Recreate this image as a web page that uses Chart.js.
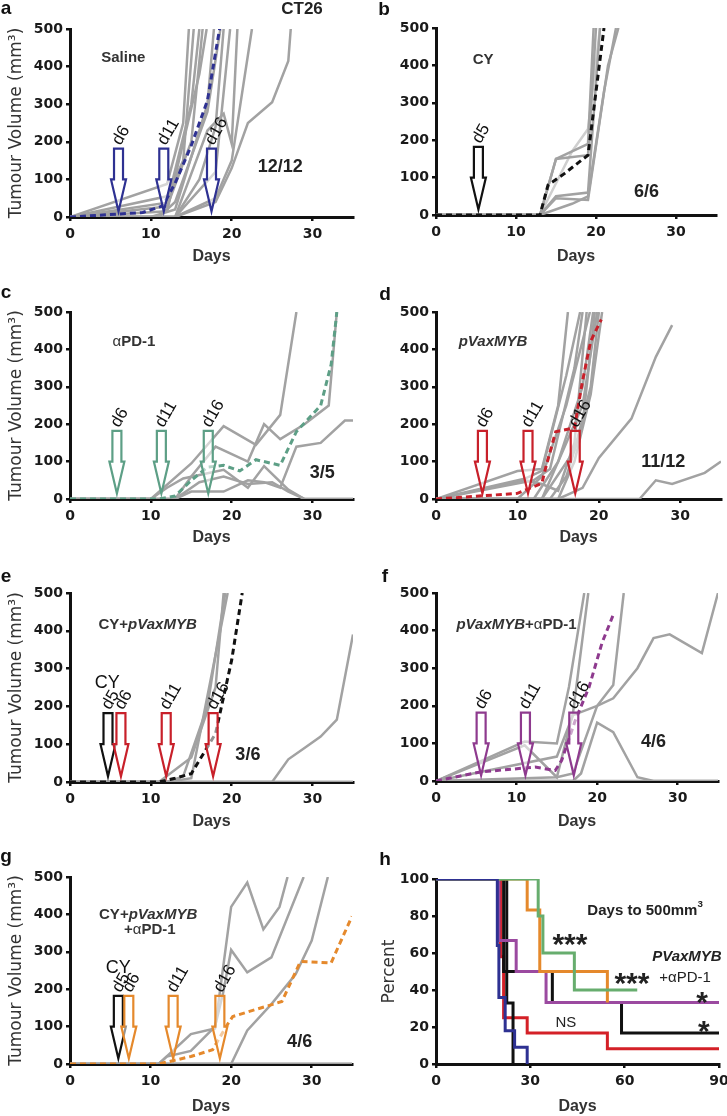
<!DOCTYPE html>
<html><head><meta charset="utf-8">
<script src="https://cdn.jsdelivr.net/npm/chart.js@4"></script>
<style>
html,body{margin:0;padding:0;background:#fff;}
#fig{position:relative;width:727px;height:1116px;}
.pn{position:absolute;}
</style></head>
<body><div id="fig"></div>
<script>
// ---------- DATA ----------
const dayTicks = [0, 10, 20, 30];
const volumeTicks = [0, 100, 200, 300, 400, 500];
const kmDayTicks = [0, 30, 60, 90];
const percentTicks = [0, 20, 40, 60, 80, 100];

// a: Saline
const salineMice = [
  [[0,0],[12,88],[14,250],[14.7,500]],
  [[0,0],[12,55],[14,150],[15.3,500]],
  [[0,0],[12,38],[15,300],[16,500]],
  [[0,0],[12,28],[15,200],[16.4,500]],
  [[0,0],[12,15],[16,380],[16.9,500]],
  [[0,0],[10,0],[13,20],[17,300],[17.8,500]],
  [[0,0],[11,0],[13,40],[17,280],[18.6,500]],
  [[0,0],[13,0],[16,100],[18,240],[19,500]],
  [[0,0],[13,0],[17,230],[19,275],[20,195],[20.7,500]],
  [[0,0],[13,0],[18,120],[19.8,500]],
  [[0,0],[13,0],[18,50],[20,150],[22.5,500]],
  [[0,0],[13,0],[18,40],[20,130],[22,250],[25,305],[27,415],[27.3,500]]
];
const salineMean = [[0,0],[9,12],[11.5,30],[13,90],[15,190],[17,310],[18.5,500]];
const salineDoseDays = [6, 11.6, 17.5];
const salineDoseLabels = ['d6', 'd11', 'd16'];

// b: CY
const cyMice = [
  [[0,0],[13,0],[15,150],[19,160],[20,500]],
  [[0,0],[13,0],[15,150],[19,190],[19.7,500]],
  [[0,0],[13,0],[15,50],[19,60],[20.5,500]],
  [[0,0],[13,0],[15,45],[19,40],[21.5,400],[22.8,500]],
  [[0,0],[13,0],[17,30],[19,50],[21,330],[22.5,500]],
  [[0,0],[13,0],[17,170],[19,230],[20.5,500]]
];
const cyMean = [[0,0],[13,0],[14,80],[16,110],[19,160],[21,500]];
const cyDoseDays = [5.3];
const cyDoseLabels = ['d5'];

// c: aPD-1
const pd1Mice = [
  [[0,0],[10,0],[15,95],[19,195],[23,145],[26,225],[28,500]],
  [[0,0],[13,0],[15,60],[18,140],[22,100],[24,200],[26,160],[29,200],[32,250],[33,500]],
  [[0,0],[13,0],[15,20],[19,20],[22,50],[24,45],[26,30],[28,140],[31,150],[34,210],[35,210]],
  [[0,0],[10,0],[12,30],[14,55],[19,78],[22,30],[24,88],[27,25],[29,0],[35,0]],
  [[0,0],[13,0],[16,45],[19,60],[22,40],[25,45],[27,20],[29,0],[35,0]]
];
const pd1Mean = [[0,0],[11,0],[13,8],[15,50],[17,85],[19,90],[21,75],[23,105],[26,90],[28,180],[31,250],[32.3,360],[33,500]];
const pd1DoseDays = [5.8, 11.3, 17.1];
const pd1DoseLabels = ['d6', 'd11', 'd16'];

// d: pVaxMYB
const mybMice = [
  [[0,0],[10,75],[13,80],[15,250],[16.2,500]],
  [[0,0],[11,55],[13,75],[16,330],[17.7,500]],
  [[0,0],[12,50],[14,80],[17,350],[18,500]],
  [[0,0],[11,50],[13,40],[15,22],[17,150],[18.5,500]],
  [[0,0],[10,0],[13,60],[16,250],[18.9,500]],
  [[0,0],[12,0],[15,100],[18,300],[19.3,500]],
  [[0,0],[13,0],[16,150],[18,250],[19.8,500]],
  [[0,0],[13,0],[17,130],[19,300],[20,500]],
  [[0,0],[15,0],[17,100],[19,280],[20.4,500]],
  [[0,0],[14,0],[16,60],[18,200],[19.5,500]],
  [[0,0],[15,0],[17,20],[18,30],[20,110],[24,215],[27,380],[29,465]],
  [[0,0],[25,0],[27,50],[29,40],[33,70],[35,100]]
];
const mybMean = [[0,0],[10,15],[13,42],[13.5,86],[14.7,180],[17,190],[18,316],[19,422],[20.3,480]];
const mybDoseDays = [5.7, 11.3, 17.1];
const mybDoseLabels = ['d6', 'd11', 'd16'];

// e: CY+pVaxMYB
const cyMybMice = [
  [[0,0],[11,0],[15,65],[18,250],[19,500]],
  [[0,0],[12,0],[15,10],[19.5,500]],
  [[0,0],[12,0],[14,15],[17,200],[19.2,500]],
  [[0,0],[25,0],[27,60],[29,90],[31,120],[33,165],[35,390]],
  [[0,0],[35,0]],
  [[0,0],[35,0]]
];
const cyMybMean = [[0,0],[11,0],[13,10],[15,22],[18,128],[20,323],[21.3,500]];
const cyMybCyDays = [4.7];
const cyMybDoseDays = [6.3, 11.9, 17.7];
const cyMybDoseLabels = ['d6', 'd11', 'd16'];

// f: pVaxMYB+aPD-1
const mybPd1Mice = [
  [[0,0],[11,105],[15,100],[16.5,250],[18.4,500]],
  [[0,0],[11,95],[15,10],[17,180],[18.9,500]],
  [[0,0],[15,65],[17,175],[20,200],[22,220],[25,300],[27,380],[29,390],[33,340],[35,500]],
  [[0,0],[15,10],[17,20],[20,200],[22,255],[23.3,500]],
  [[0,0],[17,0],[18,20],[20,155],[22,130],[25,10],[27,0],[35,0]],
  [[0,0],[35,0]]
];
const mybPd1Mean = [[0,0],[5.5,24],[12.3,37],[14.8,28],[15.6,55],[17.3,162],[19,250],[20.6,367],[22,442]];
const mybPd1DoseDays = [5.6, 11.1, 17.1];
const mybPd1DoseLabels = ['d6', 'd11', 'd16'];

// g: CY+pVaxMYB+aPD-1
const tripleMice = [
  [[0,0],[11,0],[15,80],[18,95],[20,420],[22,485],[24,360],[26,420],[27,500]],
  [[0,0],[11,0],[12,20],[15,35],[18,100],[19,190],[20,305],[22,245],[25,285],[29,500]],
  [[0,0],[20,0],[22,90],[25,160],[28,240],[30,330],[32,500]],
  [[0,0],[35,0]],
  [[0,0],[35,0]],
  [[0,0],[35,0]]
];
const tripleMean = [[0,0],[11,0],[13,10],[15,20],[17.7,38],[19.4,101],[20.2,127],[26.3,167],[28.6,274],[32.4,270],[35,395]];
const tripleCyDays = [6.0];
const tripleDoseDays = [7.3, 12.8, 18.6];
const tripleDoseLabels = ['d6', 'd11', 'd16'];

// h: days to 500 mm3 (percent remaining)
const kmSaline   = [[0,100],[19.5,64],[20,36],[22,18],[25,9],[29,0]];
const kmMyb      = [[0,100],[20.5,58],[21.5,25],[29,16.7],[54.5,8.3],[90,8.3]];
const kmCy       = [[0,100],[22.5,33],[24.5,0]];
const kmCyMyb    = [[0,100],[21.5,50],[37,33.3],[59,16.7],[90,16.7]];
const kmMybPd1   = [[0,100],[20,66.7],[25.5,50],[35,33.3],[90,33.3]];
const kmPd1      = [[0,100],[32.5,80],[34,60],[44,40],[64,40]];
const kmTriple   = [[0,100],[29,83.3],[33,50],[54.5,33.3]];

// ---------- STYLE ----------
const FONT = "'Liberation Sans', Arial, sans-serif";
const TICKFONT = "'DejaVu Sans', sans-serif";
const GREY = '#a2a2a2';
const C = {navy:'#2e3192', black:'#111111', teal:'#5d9f86', red:'#c8202a', purple:'#8e3a8e', orange:'#e5892c', green:'#67ad6e', kmRed:'#d42027', kmPurple:'#9b4aa0', kmBlue:'#2e3192'};

const pts = a => a.map(([x, y]) => ({x, y}));

function drawRich(ctx, segs, cx, cy, size, color) {
  const parts = segs.map(([t, st]) => {
    const sup = st.includes('sup');
    const s = sup ? size * 0.65 : size;
    const w8 = st.replace('sup', '').trim() || 'normal';
    const f = `${w8} ${s}px ${FONT}`;
    ctx.font = f;
    return {t, f, w: ctx.measureText(t).width, dy: sup ? -size * 0.45 : 0};
  });
  const total = parts.reduce((a, p) => a + p.w, 0);
  let x = cx - total / 2;
  ctx.fillStyle = color; ctx.textBaseline = 'middle'; ctx.textAlign = 'left';
  parts.forEach(p => { ctx.font = p.f; ctx.fillText(p.t, x, cy + p.dy); x += p.w; });
}

function drawArrow(ctx, x, yTop, yNeck, yTip, color) {
  const sw = 4.5, hw = 7.5;
  ctx.save();
  ctx.beginPath();
  ctx.moveTo(x - sw, yTop); ctx.lineTo(x + sw, yTop); ctx.lineTo(x + sw, yNeck);
  ctx.lineTo(x + hw, yNeck); ctx.lineTo(x, yTip); ctx.lineTo(x - hw, yNeck);
  ctx.lineTo(x - sw, yNeck); ctx.closePath();
  ctx.fillStyle = 'rgba(255,255,255,0.55)'; ctx.fill();
  ctx.lineWidth = 2.2; ctx.strokeStyle = color; ctx.lineJoin = 'miter'; ctx.stroke();
  ctx.restore();
}

const annotPlugin = {
  id: 'annot',
  afterDatasetsDraw(chart, args, opts) {
    const {ctx, scales: {x, y}} = chart;
    (opts.arrows || []).forEach(a => {
      const px = x.getPixelForValue(a.day);
      const top = y.getPixelForValue(a.top);
      drawArrow(ctx, px, top, y.getPixelForValue(a.neck), y.getPixelForValue(a.tip), a.color);
      if (a.label) {
        ctx.save();
        ctx.translate(px - 2, top - 5);
        ctx.rotate(-60 * Math.PI / 180);
        ctx.font = `17px ${FONT}`; ctx.fillStyle = '#111';
        ctx.textAlign = 'left'; ctx.textBaseline = 'middle';
        ctx.fillText(a.label, 0, 0);
        ctx.restore();
      }
    });
  },
  afterDraw(chart, args, opts) {
    const {ctx, scales: {x, y}} = chart;
    ctx.save();
    (opts.texts || []).forEach(t => {
      drawRich(ctx, t.segs, x.getPixelForValue(t.x), y.getPixelForValue(t.y) + (t.dy || 0), t.size || 15, t.color || '#333');
    });
    (opts.fixed || []).forEach(t => {
      drawRich(ctx, t.segs, t.px, t.py, t.size, t.color || '#111');
    });
    ctx.restore();
  }
};

function scaleOpts(o) {
  return {
    type: 'linear', min: o.min, max: o.max,
    afterBuildTicks: s => { s.ticks = o.ticks.map(v => ({value: v})); },
    ticks: {font: {family: TICKFONT, size: 14, weight: 'bold'}, color: '#1a1a1a', padding: o.tickPad, maxRotation: 0, autoSkip: false},
    grid: {drawOnChartArea: false, drawTicks: true, tickLength: 4, color: '#111', lineWidth: 2.5},
    border: {display: true, color: '#111', width: 3},
    title: o.title ? {display: true, text: o.title, font: o.titleFont, color: '#333', padding: o.titlePad} : {display: false},
    afterFit: s => {
      if (o.width !== undefined) s.width = o.width;
      if (o.height !== undefined) { s.height = o.height; s.paddingLeft = 0; s.paddingRight = 0; }
    }
  };
}

function makeChart(p, datasets, plugOpts) {
  const div = document.createElement('div');
  div.className = 'pn';
  div.style.left = p.left + 'px'; div.style.top = p.top + 'px';
  div.style.width = p.w + 'px'; div.style.height = p.h + 'px';
  const cv = document.createElement('canvas');
  cv.width = p.w; cv.height = p.h;
  div.appendChild(cv);
  document.getElementById('fig').appendChild(div);
  new Chart(cv, {
    type: 'line',
    data: {datasets},
    options: {
      responsive: false, animation: false, devicePixelRatio: 1,
      layout: {padding: {left: 0, top: p.padTop, right: p.padRight, bottom: 0}},
      plugins: {legend: {display: false}, tooltip: {enabled: false}, annot: plugOpts},
      elements: {point: {radius: 0}, line: {tension: 0}},
      scales: {
        x: scaleOpts({min: 0, max: p.xMax, ticks: p.xTicks, tickPad: 5, height: p.xH,
          title: 'Days', titleFont: {family: FONT, size: 16, weight: 'bold'}, titlePad: {top: 0, bottom: p.xTitlePB}}),
        y: scaleOpts({min: 0, max: p.yMax, ticks: p.yTicks, tickPad: 3, width: p.yW,
          title: p.yTitle, titleFont: {family: "'DejaVu Sans', sans-serif", size: 17}, titlePad: {top: p.yTitlePT || 6, bottom: 0}})
      }
    },
    plugins: [annotPlugin]
  });
}

function volumePanel(p, mice, mean, meanColor, arrows, texts, fixed) {
  const ds = [{data: pts(mean), borderColor: meanColor, borderWidth: 3, borderDash: [6, 4], pointRadius: 0}];
  mice.forEach((m, i) => ds.push({data: pts(m), borderColor: (p.light === i) ? '#cfcfcf' : GREY, borderWidth: 2.5, pointRadius: 0}));
  makeChart(Object.assign({xMax: 35, xTicks: dayTicks, yMax: 500, yTicks: volumeTicks}, p), ds, {arrows, texts, fixed});
}

const arrowsFor = (days, labels, color) => days.map((d, i) => ({day: d, top: 182, neck: 100, tip: 15, color, label: labels ? labels[i] : null}));
const letter = (l, px, py) => ({segs: [[l, 'bold']], px, py, size: 19, color: '#111'});
const YT = 'Tumour Volume (mm³)';
const B = 'bold', IB = 'italic bold', N = 'normal';

// a
volumePanel({left: 0, top: 0, w: 363, h: 280, yW: 70, padTop: 29, padRight: 10, xH: 63, xTitlePB: 14, yTitle: YT},
  salineMice, salineMean, C.navy,
  arrowsFor(salineDoseDays, salineDoseLabels, C.navy),
  [{segs: [['Saline', B]], x: 6.6, y: 423}, {segs: [['12/12', B]], x: 26, y: 133, size: 18, color: '#222'}],
  [letter('a', 6, 9), {segs: [['CT26', B]], px: 302, py: 9, size: 17, color: '#222'}]);

// b
volumePanel({left: 363, top: 0, w: 364, h: 280, yW: 73, padTop: 28, padRight: 11, xH: 65, xTitlePB: 14, light: 5},
  cyMice, cyMean, C.black,
  arrowsFor(cyDoseDays, cyDoseLabels, C.black),
  [{segs: [['CY', B]], x: 5.9, y: 414}, {segs: [['6/6', B]], x: 26.3, y: 61, size: 18, color: '#222'}],
  [letter('b', 21, 10)]);

// c
volumePanel({left: 0, top: 280, w: 363, h: 280, yW: 70, padTop: 32, padRight: 10, xH: 61, xTitlePB: 13, yTitle: YT},
  pd1Mice, pd1Mean, C.teal,
  arrowsFor(pd1DoseDays, pd1DoseLabels, C.teal),
  [{segs: [['α', N], ['PD-1', B]], x: 7.9, y: 420}, {segs: [['3/5', B]], x: 31.2, y: 70, size: 18, color: '#222'}],
  [letter('c', 6, 13)]);

// d
volumePanel({left: 363, top: 280, w: 364, h: 280, yW: 73, padTop: 32, padRight: 6, xH: 61, xTitlePB: 13},
  mybMice, mybMean, C.red,
  arrowsFor(mybDoseDays, mybDoseLabels, C.red),
  [{segs: [['pVaxMYB', IB]], x: 7.0, y: 420}, {segs: [['11/12', B]], x: 27.9, y: 99, size: 18, color: '#222'}],
  [letter('d', 22, 15)]);

// e
volumePanel({left: 0, top: 560, w: 363, h: 280, yW: 70, padTop: 33, padRight: 10, xH: 58, xTitlePB: 9, yTitle: YT},
  cyMybMice, cyMybMean, C.black,
  arrowsFor(cyMybCyDays, ['d5'], C.black).concat(arrowsFor(cyMybDoseDays, cyMybDoseLabels, C.red)),
  [{segs: [['CY+', B], ['pVaxMYB', IB]], x: 9.6, y: 415},
   {segs: [['CY', N]], x: 4.6, y: 262, size: 18, color: '#111'},
   {segs: [['3/6', B]], x: 22, y: 71, size: 18, color: '#222'}],
  [letter('e', 6, 17)]);

// f
volumePanel({left: 363, top: 560, w: 364, h: 280, yW: 73, padTop: 33, padRight: 9, xH: 59, xTitlePB: 9},
  mybPd1Mice, mybPd1Mean, C.purple,
  arrowsFor(mybPd1DoseDays, mybPd1DoseLabels, C.purple),
  [{segs: [['pVaxMYB', IB], ['+', B], ['α', N], ['PD-1', B]], x: 10, y: 415},
   {segs: [['4/6', B]], x: 27, y: 104, size: 18, color: '#222'}],
  [letter('f', 22, 17)]);

// g
volumePanel({left: 0, top: 840, w: 363, h: 276, yW: 70, padTop: 37, padRight: 11, xH: 52, xTitlePB: 0, yTitle: YT},
  tripleMice, tripleMean, C.orange,
  arrowsFor(tripleCyDays, ['d5'], C.black).concat(arrowsFor(tripleDoseDays, tripleDoseLabels, C.orange)),
  [{segs: [['CY+', B], ['pVaxMYB', IB]], x: 9.7, y: 398},
   {segs: [['+', B], ['α', N], ['PD-1', B]], x: 9.9, y: 358},
   {segs: [['CY', N]], x: 6.0, y: 257, size: 18, color: '#111'},
   {segs: [['4/6', B]], x: 28.5, y: 59, size: 18, color: '#222'}],
  [letter('g', 6, 17)]);

// h
(function () {
  const km = (d, color, w) => ({data: pts(d), borderColor: color, borderWidth: w || 3, stepped: 'before', pointRadius: 0});
  const ds = [
    km(kmSaline, C.kmBlue), km(kmPd1, C.green), km(kmTriple, C.orange), km(kmMybPd1, C.kmPurple),
    km(kmCyMyb, C.black), km(kmCy, C.black), km(kmMyb, C.kmRed)
  ];
  const star = 30;
  makeChart({left: 363, top: 840, w: 364, h: 276, yW: 73, padTop: 39, padRight: 8, xH: 52, xTitlePB: 0,
      xMax: 90, xTicks: kmDayTicks, yMax: 100, yTicks: percentTicks, yTitle: 'Percent', yTitlePT: 16}, ds,
    {texts: [
      {segs: [['Days to 500mm', B], ['3', 'sup bold']], x: 66.5, y: 82.7, size: 15, color: '#222'},
      {segs: [['***', B]], x: 42.6, y: 68, dy: 8, size: star, color: '#222'},
      {segs: [['***', B]], x: 62.3, y: 47, dy: 8, size: star, color: '#222'},
      {segs: [['PVaxMYB', IB]], x: 79.8, y: 57.8, size: 15, color: '#222'},
      {segs: [['+', N], ['α', N], ['PD-1', N]], x: 79.2, y: 46.5, size: 15, color: '#222'},
      {segs: [['*', B]], x: 84.6, y: 37, dy: 8, size: star, color: '#222'},
      {segs: [['*', B]], x: 85.2, y: 21, dy: 8, size: star, color: '#222'},
      {segs: [['NS', N]], x: 41.3, y: 22, size: 15, color: '#222'}
    ], fixed: [letter('h', 22, 20)]});
})();
</script>
</body></html>
